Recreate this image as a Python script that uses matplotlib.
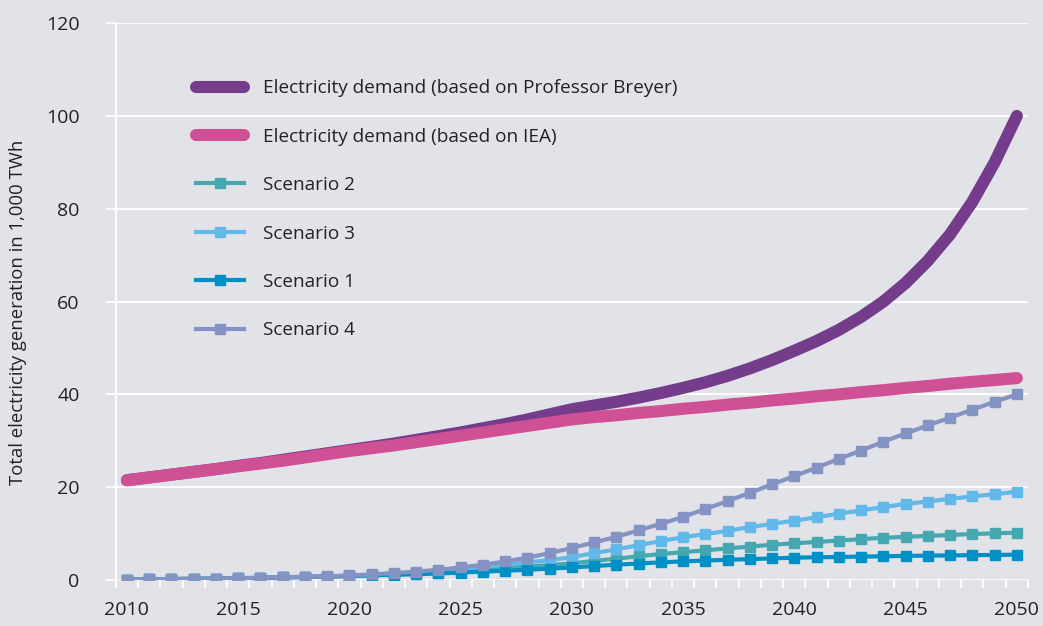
import matplotlib
matplotlib.use("Agg")
import matplotlib.pyplot as plt
import numpy as np

years = list(range(2010, 2051))

breyer = [21.5, 22.1, 22.7, 23.3, 23.9, 24.6, 25.2, 25.9, 26.6, 27.3,
          28.0, 28.7, 29.4, 30.2, 31.0, 31.8, 32.7, 33.6, 34.6, 35.7,
          36.8, 37.6, 38.4, 39.3, 40.3, 41.4, 42.6, 44.0, 45.6, 47.4,
          49.4, 51.5, 53.9, 56.7, 60.0, 64.0, 68.8, 74.5, 81.5, 90.0,
          100.0]
iea = [21.5, 22.1, 22.7, 23.3, 23.9, 24.5, 25.1, 25.7, 26.4, 27.1,
       27.8, 28.4, 29.0, 29.7, 30.4, 31.1, 31.8, 32.5, 33.2, 33.9,
       34.6, 35.1, 35.5, 36.0, 36.4, 36.9, 37.3, 37.8, 38.2, 38.7,
       39.1, 39.6, 40.0, 40.5, 40.9, 41.4, 41.8, 42.3, 42.7, 43.1,
       43.5]
scenario2 = [0.1, 0.15, 0.2, 0.25, 0.3, 0.35, 0.45, 0.55, 0.65, 0.75,
             0.9, 1.05, 1.2, 1.4, 1.6, 1.9, 2.2, 2.5, 2.9, 3.2,
             3.6, 4.1, 4.6, 5.1, 5.6, 6.0, 6.4, 6.8, 7.2, 7.6,
             7.9, 8.2, 8.5, 8.8, 9.1, 9.3, 9.5, 9.7, 9.9, 10.05,
             10.2]
scenario3 = [0.1, 0.15, 0.2, 0.25, 0.3, 0.35, 0.45, 0.55, 0.65, 0.75,
             0.9, 1.1, 1.35, 1.6, 1.95, 2.3, 2.8, 3.3, 3.8, 4.3,
             4.9, 5.8, 6.6, 7.5, 8.4, 9.2, 9.9, 10.6, 11.4, 12.1,
             12.8, 13.5, 14.3, 15.0, 15.7, 16.4, 16.9, 17.5, 18.0, 18.5,
             19.0]
scenario1 = [0.1, 0.15, 0.2, 0.25, 0.3, 0.35, 0.45, 0.55, 0.65, 0.75,
             0.85, 1.0, 1.1, 1.25, 1.4, 1.6, 1.8, 2.0, 2.2, 2.45,
             2.7, 3.0, 3.3, 3.55, 3.8, 4.0, 4.2, 4.35, 4.5, 4.65,
             4.8, 4.9, 4.95, 5.05, 5.1, 5.2, 5.25, 5.3, 5.35, 5.4,
             5.45]
scenario4 = [0.1, 0.15, 0.2, 0.25, 0.3, 0.4, 0.5, 0.6, 0.7, 0.8,
             1.0, 1.2, 1.5, 1.8, 2.2, 2.7, 3.3, 4.0, 4.8, 5.8,
             6.9, 8.1, 9.3, 10.7, 12.1, 13.6, 15.3, 17.0, 18.8, 20.6,
             22.4, 24.2, 26.1, 27.9, 29.8, 31.6, 33.3, 35.0, 36.7, 38.4,
             40.0]

plt.rcParams['font.family'] = ['Open Sans', 'DejaVu Sans']
bg = '#e2e3e8'
text_color = '#222222'

fig = plt.figure(figsize=(10.43, 6.26), dpi=100, facecolor=bg)
ax = fig.add_axes([0.111, 0.0735, 0.8746, 0.8895], facecolor=bg)

ax.plot(years, breyer, color='#743c8a', lw=8.7, solid_capstyle='round',
        label='Electricity demand (based on Professor Breyer)')
ax.plot(years, iea, color='#d05096', lw=8.7, solid_capstyle='round',
        label='Electricity demand (based on IEA)')
scen = [
    (scenario2, '#45a8b0', 'Scenario 2'),
    (scenario3, '#62b8e8', 'Scenario 3'),
    (scenario1, '#0090c5', 'Scenario 1'),
    (scenario4, '#8592c4', 'Scenario 4'),
]
for vals, col, name in scen:
    ax.plot(years, vals, color=col, lw=3, marker='s', markersize=7,
            label=name)

ax.set_xlim(2009.5, 2050.5)
ax.set_ylim(0, 120)
ax.set_yticks(range(0, 121, 20))
ax.set_xticks(range(2010, 2051, 5))
ax.set_xticks(np.arange(2009.5, 2051, 1), minor=True)
ax.grid(axis='y', color='white', lw=1.3)
ax.set_axisbelow(True)

for side in ['top', 'right', 'bottom']:
    ax.spines[side].set_visible(False)
ax.spines['left'].set_color('white')
ax.spines['left'].set_linewidth(1.3)

ax.tick_params(axis='y', colors='white', length=7, width=1.3, pad=19,
               labelcolor=text_color, labelsize=14)
ax.tick_params(axis='x', which='major', length=0, pad=15,
               labelcolor=text_color, labelsize=14)
ax.tick_params(axis='x', which='minor', colors='white', length=6,
               width=1.3)

ax.set_ylabel('Total electricity generation in 1,000 TWh', fontsize=13.3,
              color=text_color)
ax.yaxis.set_label_coords(-0.097, 0.48)

leg = ax.legend(loc='upper left', bbox_to_anchor=(0.069, 0.93),
                frameon=False, fontsize=13.7, handlelength=2.55,
                labelspacing=1.6, handletextpad=1.0)
for t in leg.get_texts():
    t.set_color(text_color)

fig.savefig('out.png', dpi=100, facecolor=bg)
